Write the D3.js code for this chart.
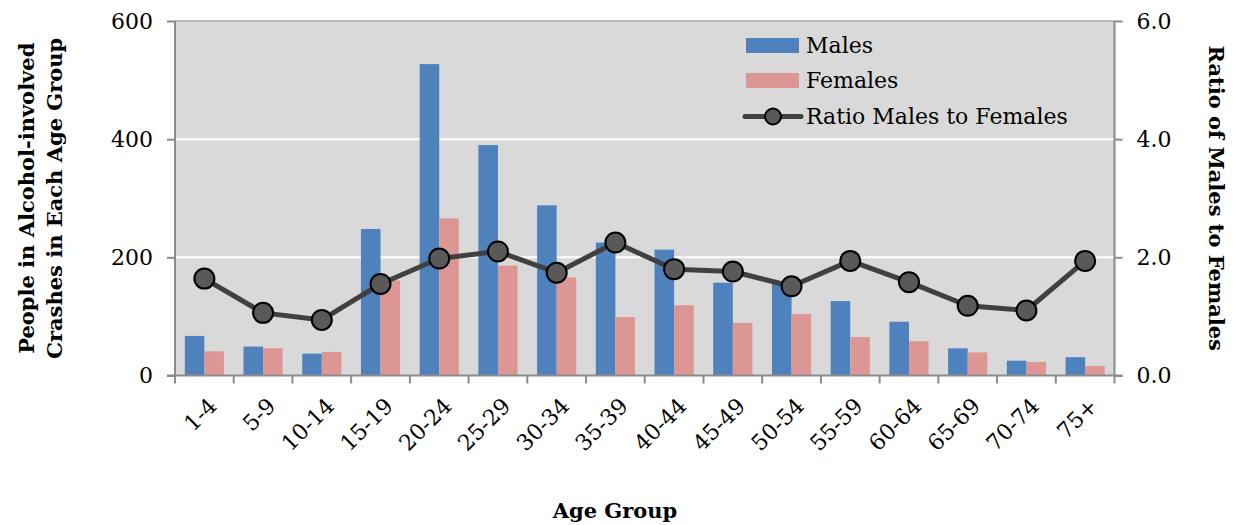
<!DOCTYPE html>
<html>
<head>
<meta charset="utf-8">
<script src="https://cdn.jsdelivr.net/npm/d3@7"></script>
<style>
  html, body { margin: 0; padding: 0; background: #fff; }
  svg text { font-family: "DejaVu Serif", serif; fill: #000; }
</style>
</head>
<body>
<svg id="chart" width="1238" height="525"></svg>
<script>
// Age groups and counts of people in alcohol-involved crashes
const ageGroups = ["1-4","5-9","10-14","15-19","20-24","25-29","30-34","35-39",
                   "40-44","45-49","50-54","55-59","60-64","65-69","70-74","75+"];
const males   = [67, 49, 37, 248, 527, 390, 288, 225, 213, 157, 155, 126, 91, 46, 25, 31];
const females = [41, 46, 40, 161, 266, 186, 166,  99, 119,  89, 104,  65, 58, 39, 23, 16];
const ratio   = [1.64, 1.06, 0.94, 1.55, 1.98, 2.10, 1.74, 2.25, 1.80, 1.76, 1.51, 1.94, 1.58, 1.18, 1.10, 1.94];
const leftTicks  = [0, 200, 400, 600];
const rightTicks = [0, 2, 4, 6];

const svg = d3.select("#chart");
const margin = { left: 175, right: 1238 - 1114.5, top: 21, bottom: 525 - 375.5 };
const W = 1238, H = 525;
const x0 = margin.left, x1 = W - margin.right, yTop = margin.top, yBot = H - margin.bottom;

const x = d3.scaleBand().domain(ageGroups).range([x0, x1]).padding(0);
const yL = d3.scaleLinear().domain([0, 600]).range([yBot, yTop]);
const yR = d3.scaleLinear().domain([0, 6]).range([yBot, yTop]);

const axisColor = "#8c8c8c";
const maleColor = "#4f81bd", femaleColor = "#dc9694";
const fontSize = "22px";

// plot background
svg.append("rect").attr("x", x0).attr("y", yTop).attr("width", x1 - x0).attr("height", yBot - yTop)
  .attr("fill", "#d9d9d9");

// gridlines
svg.append("g").selectAll("line").data([200, 400]).join("line")
  .attr("x1", x0).attr("x2", x1).attr("y1", d => yL(d)).attr("y2", d => yL(d))
  .attr("stroke", "#fff").attr("stroke-width", 2);
svg.append("line").attr("x1", x0).attr("x2", x1).attr("y1", yL(600)).attr("y2", yL(600))
  .attr("stroke", "#a6a6a6").attr("stroke-width", 1.5);

// bars
const bw = x.bandwidth() / 3;
const bars = svg.append("g");
bars.selectAll(".m").data(ageGroups).join("rect")
  .attr("x", d => x(d) + x.bandwidth() / 6).attr("width", bw)
  .attr("y", (d, i) => yL(males[i])).attr("height", (d, i) => yBot - yL(males[i]))
  .attr("fill", maleColor);
bars.selectAll(".f").data(ageGroups).join("rect")
  .attr("x", d => x(d) + x.bandwidth() / 6 + bw).attr("width", bw)
  .attr("y", (d, i) => yL(females[i])).attr("height", (d, i) => yBot - yL(females[i]))
  .attr("fill", femaleColor);

// axes
const gL = svg.append("g").attr("transform", `translate(${x0},0)`)
  .call(d3.axisLeft(yL).tickValues(leftTicks).tickSize(8).tickPadding(14).tickFormat(d3.format("d")));
const gR = svg.append("g").attr("transform", `translate(${x1},0)`)
  .call(d3.axisRight(yR).tickValues(rightTicks).tickSize(8).tickPadding(14).tickFormat(d3.format(".1f")));
const gB = svg.append("g").attr("transform", `translate(0,${yBot})`)
  .call(d3.axisBottom(x).tickSize(0).tickFormat(""));
[gL, gR, gB].forEach(g => {
  g.select(".domain").attr("stroke", axisColor).attr("stroke-width", 2);
  g.selectAll(".tick line").attr("stroke", axisColor).attr("stroke-width", 2);
  g.selectAll("text").style("font-family", "'DejaVu Serif', serif").style("font-size", fontSize).attr("fill", "#000");
});
gL.select(".domain").attr("d", `M0,${yTop}V${yBot}`);
gR.select(".domain").attr("d", `M0,${yTop}V${yBot}`);
gB.select(".domain").attr("d", `M${x0 - 8},0H${x1 + 8}`);

// category boundary ticks along the bottom
const edges = ageGroups.map(d => x(d)).concat([x1]);
svg.append("g").selectAll("line").data(edges).join("line")
  .attr("x1", d => d).attr("x2", d => d).attr("y1", yBot).attr("y2", yBot + 8)
  .attr("stroke", axisColor).attr("stroke-width", 2);

// rotated category labels
svg.append("g").selectAll("text").data(ageGroups).join("text")
  .attr("transform", d => `translate(${x(d) + x.bandwidth() / 2 + 3},${yBot + 21}) rotate(-45)`)
  .attr("text-anchor", "end").attr("dy", "0.7em")
  .style("font-size", fontSize).text(d => d);

// ratio line
const line = d3.line().x((d, i) => x(ageGroups[i]) + x.bandwidth() / 2).y(d => yR(d));
svg.append("path").datum(ratio).attr("d", line)
  .attr("fill", "none").attr("stroke", "#404040").attr("stroke-width", 5).attr("stroke-linejoin", "round");
svg.append("g").selectAll("circle").data(ratio).join("circle")
  .attr("cx", (d, i) => x(ageGroups[i]) + x.bandwidth() / 2).attr("cy", d => yR(d))
  .attr("r", 10).attr("fill", "#595959").attr("stroke", "#000").attr("stroke-width", 2);

// axis titles
svg.append("text").attr("x", 615).attr("y", 518).attr("text-anchor", "middle")
  .style("font-size", "21px").style("font-weight", "bold").text("Age Group");
svg.append("text").attr("transform", `translate(34,${(yTop + yBot) / 2}) rotate(-90)`)
  .attr("text-anchor", "middle").style("font-size", "21px").style("font-weight", "bold")
  .text("People in Alcohol-involved");
svg.append("text").attr("transform", `translate(62,${(yTop + yBot) / 2}) rotate(-90)`)
  .attr("text-anchor", "middle").style("font-size", "21px").style("font-weight", "bold")
  .text("Crashes in Each Age Group");
svg.append("text").attr("transform", `translate(1209,${(yTop + yBot) / 2}) rotate(90)`)
  .attr("text-anchor", "middle").style("font-size", "21px").style("font-weight", "bold")
  .text("Ratio of Males to Females");

// legend
const legend = svg.append("g").attr("transform", "translate(746,0)");
const legendItems = [
  { label: "Males", type: "rect", color: maleColor, y: 45.5 },
  { label: "Females", type: "rect", color: femaleColor, y: 80.5 },
  { label: "Ratio Males to Females", type: "line", y: 116.5 }
];
legendItems.forEach(it => {
  if (it.type === "rect") {
    legend.append("rect").attr("x", 0).attr("y", it.y - 7.5).attr("width", 53).attr("height", 15).attr("fill", it.color);
  } else {
    legend.append("line").attr("x1", -1).attr("x2", 55).attr("y1", it.y).attr("y2", it.y)
      .attr("stroke", "#404040").attr("stroke-width", 5).attr("stroke-linecap", "round");
    legend.append("circle").attr("cx", 27).attr("cy", it.y).attr("r", 8)
      .attr("fill", "#595959").attr("stroke", "#000").attr("stroke-width", 2);
  }
  legend.append("text").attr("x", 60).attr("y", it.y).attr("dy", "0.35em")
    .style("font-size", fontSize).text(it.label);
});
</script>
</body>
</html>
